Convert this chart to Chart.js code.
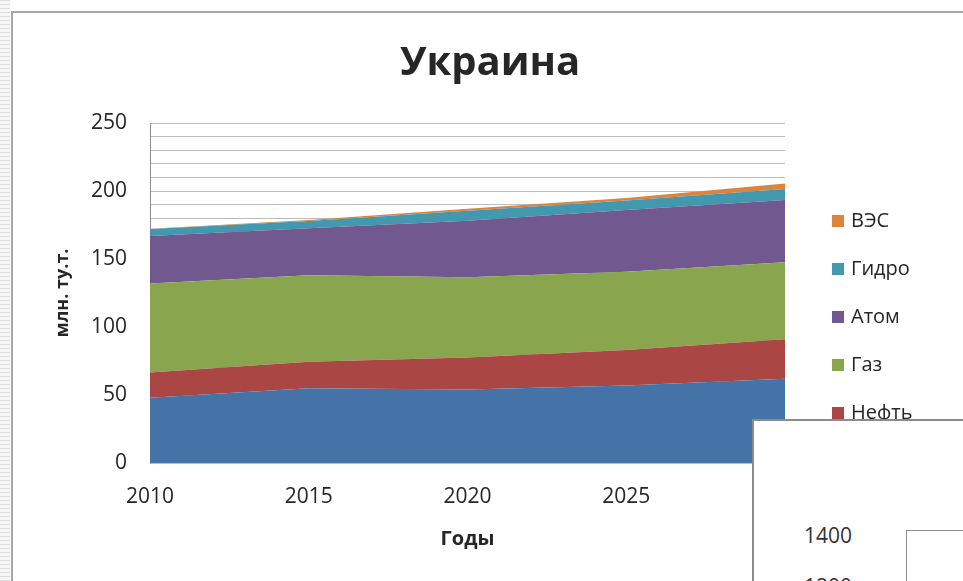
<!DOCTYPE html>
<html>
<head>
<meta charset="utf-8">
<script src="https://cdn.jsdelivr.net/npm/chart.js@4.4.1/dist/chart.umd.min.js"></script>
<style>
    html, body { margin: 0; padding: 0; background: #fff; overflow: hidden; }
    body { width: 963px; height: 581px; position: relative; font-family: 'Open Sans', sans-serif; }
    #stripe { position: absolute; left: 0; top: 0; width: 10px; height: 581px;
        background: repeating-linear-gradient(to bottom, #dcdcdc 0, #dcdcdc 1px, #f7f7f7 1px, #f7f7f7 4px); }
    #frame { position: absolute; left: 11px; top: 11px; width: 960px; height: 580px;
        border-top: 2px solid #a6a6a6; border-left: 2px solid #a6a6a6; }
    #chartBox { position: absolute; left: 0; top: 0; width: 963px; height: 581px; }
    #other { position: absolute; left: 752px; top: 419px; width: 260px; height: 200px;
        background: #fff; border: 2px solid #8c8c8c; box-sizing: border-box; }
    #other .tick { position: absolute; left: 50px; font-size: 21px; color: #333; line-height: 1; }
    #other .plot { position: absolute; left: 152px; top: 109px; width: 200px; height: 200px;
        border-top: 1px solid #8c8c8c; border-left: 1px solid #8c8c8c; }
</style>
</head>
<body>
<div id="stripe"></div>
<div id="frame"></div>
<div id="chartBox"><canvas id="ukraineChart" width="963" height="581"></canvas></div>
<div id="other">
    <div class="tick" style="top:104px">1400</div>
    <div class="tick" style="top:155px">1200</div>
    <div class="plot"></div>
</div>
<script>
    // Years on the x axis
    const years = ['2010', '2015', '2020', '2025', '2030'];

    // Series, million t.c.e.
    const coal = [48, 55, 54, 57, 62];
    const oil = [18.5, 19.5, 23.5, 26, 29];
    const gas = [65.5, 63.5, 59, 57.7, 56.6];
    const atom = [35, 34.6, 41.7, 45.3, 45.8];
    const hydro = [5, 5.4, 7.3, 7, 8.1];
    const wind = [0.3, 0.6, 1.5, 1.8, 4];

    const seriesNames = ['Уголь', 'Нефть', 'Газ', 'Атом', 'Гидро', 'ВЭС'];
    const yTickLabels = [0, 50, 100, 150, 200, 250];

    const colors = ['#4572A7', '#AA4643', '#89A54E', '#71588F', '#4198AF', '#DB843D'];
    const textColor = '#262626';
    const baseFont = "'Open Sans', sans-serif";

    function makeSet(label, values, color, i) {
        return {
            label: label,
            data: values,
            backgroundColor: color,
            borderColor: color,
            borderWidth: 0,
            pointRadius: 0,
            tension: 0,
            fill: i === 0 ? 'origin' : '-1'
        };
    }

    const allValues = [coal, oil, gas, atom, hydro, wind];
    const datasets = allValues.map(function(v, i) {
        return makeSet(seriesNames[i], v, colors[i], i);
    });

    // legend drawn in reverse order on the right, like the original
    const sideLegend = {
        id: 'sideLegend',
        afterLayout: function(chart) {
            // title is centred on the whole frame, not on the plot
            chart.titleBlock.left = 12;
            chart.titleBlock.right = 968;
        },
        afterDraw: function(chart) {
            const ctx = chart.ctx;
            const sets = chart.data.datasets.slice().reverse();
            ctx.save();
            ctx.font = '20px ' + baseFont;
            ctx.textBaseline = 'middle';
            ctx.textAlign = 'left';
            sets.forEach(function(ds, i) {
                const y = 221 + i * 48;
                ctx.fillStyle = ds.backgroundColor;
                ctx.fillRect(832, y - 6, 12, 12);
                ctx.fillStyle = textColor;
                ctx.fillText(ds.label, 851, y);
            });
            ctx.restore();
        }
    };

    const ctx = document.getElementById('ukraineChart').getContext('2d');
    const chart = new Chart(ctx, {
        type: 'line',
        data: { labels: years, datasets: datasets },
        options: {
            responsive: false,
            animation: false,
            layout: { padding: { left: 12, top: 12, right: 178, bottom: 0 } },
            plugins: {
                legend: { display: false },
                tooltip: { enabled: false },
                title: {
                    display: true,
                    text: 'Украина',
                    color: textColor,
                    font: { family: baseFont, size: 40, weight: 'bold', lineHeight: 1.2 },
                    padding: { top: 28, bottom: 35 }
                }
            },
            scales: {
                x: {
                    type: 'category',
                    offset: false,
                    grid: { display: false, drawTicks: false },
                    border: { display: false },
                    ticks: {
                        color: textColor,
                        font: { family: baseFont, size: 21 },
                        padding: 21,
                        maxRotation: 0
                    },
                    title: {
                        display: true,
                        text: 'Годы',
                        color: textColor,
                        font: { family: baseFont, size: 20, weight: 'bold' },
                        padding: { top: 10, bottom: 30 }
                    },
                    afterFit: function(scale) { scale.height = 118; }
                },
                y: {
                    stacked: true,
                    min: 0,
                    max: 250,
                    grid: { color: '#bdbdbd', lineWidth: 1, drawTicks: false },
                    border: { display: true, color: '#8c8c8c' },
                    ticks: {
                        stepSize: 10,
                        autoSkip: false,
                        color: textColor,
                        font: { family: baseFont, size: 21 },
                        padding: 23,
                        callback: function(value) {
                            return yTickLabels.indexOf(value) >= 0 ? String(value) : '';
                        }
                    },
                    title: {
                        display: true,
                        text: 'млн. ту.т.',
                        color: textColor,
                        font: { family: baseFont, size: 18, weight: 'bold' },
                        padding: { top: 40, bottom: 0 }
                    },
                    afterFit: function(scale) { scale.width = 138; }
                }
            }
        },
        plugins: [sideLegend]
    });
</script>
</body>
</html>
